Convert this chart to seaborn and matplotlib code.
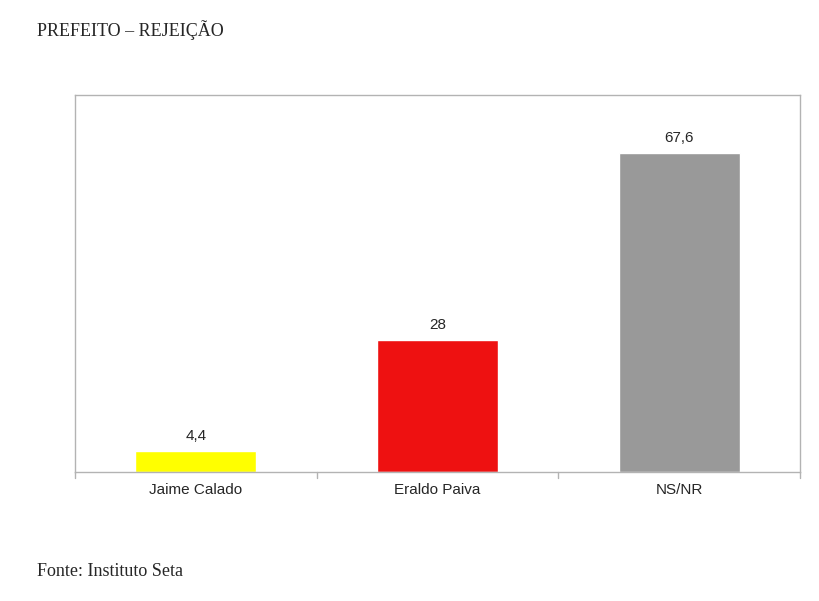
import matplotlib
matplotlib.use("Agg")
import matplotlib.pyplot as plt
import seaborn as sns
import pandas as pd

categories = ["Jaime Calado", "Eraldo Paiva", "NS/NR"]
values = [4.4, 28, 67.6]
labels = ["4,4", "28", "67,6"]
colors = ["#ffff00", "#ee1111", "#999999"]

sns.set_style("white")
plt.rcParams['font.family'] = ['Liberation Sans', 'DejaVu Sans']

fig = plt.figure(figsize=(8.2, 6.01), dpi=100)
ax = fig.add_axes([75/820, 1-472/601, 725/820, 377/601])
df = pd.DataFrame({"cat": categories, "val": values})
sns.barplot(data=df, x="cat", y="val", hue="cat", palette=colors, width=0.5,
            legend=False, ax=ax, saturation=1)
ax.set_ylim(0, 80)
ax.set_xlim(-0.5, 2.5)
ax.set_xlabel(""); ax.set_ylabel("")
ax.set_yticks([])
ax.set_xticks([0, 1, 2])
ax.set_xticklabels(categories, fontsize=11)
ax.tick_params(axis='x', length=0, pad=8)
for x in [-0.5, 0.5, 1.5, 2.5]:
    ax.plot([x, x], [0, -1.3], color="#b3b3b3", lw=1, clip_on=False)
for sp in ax.spines.values():
    sp.set_color("#b3b3b3"); sp.set_linewidth(1)
for i, (v, l) in enumerate(zip(values, labels)):
    ax.text(i, v + 1.8, l, ha="center", va="bottom", fontsize=11)
fig.text(37/820, 1-30/601, "PREFEITO – REJEIÇÃO", family="Liberation Serif",
         fontsize=13, va="center", ha="left")
fig.text(37/820, 1-571/601, "Fonte: Instituto Seta", family="Liberation Serif",
         fontsize=13, va="center", ha="left")
fig.savefig("out.png", dpi=100)
